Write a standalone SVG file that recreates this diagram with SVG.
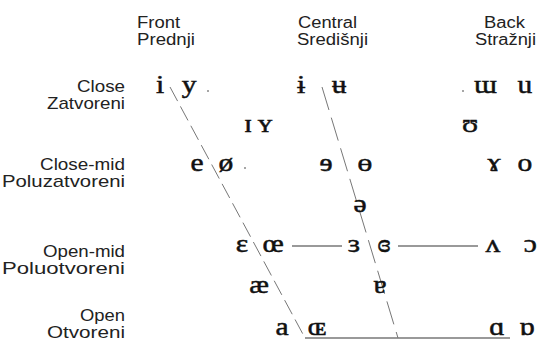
<svg xmlns="http://www.w3.org/2000/svg" width="540" height="344" viewBox="0 0 540 344">
<style>
.lbl{font-family:"Liberation Sans",Arial,sans-serif;font-size:16px;fill:#222}
.row{font-family:"Liberation Sans",Arial,sans-serif;font-size:17px;fill:#222;text-anchor:end}
.v{font-family:"Liberation Serif","DejaVu Serif",serif;font-size:25px;fill:#111;stroke:#111;stroke-width:0.5;text-anchor:middle}
.dash{stroke:#777;stroke-width:1;fill:none}
.solid{stroke:#777;stroke-width:1.6;fill:none}
.dot{fill:#888}
</style>
<rect width="540" height="344" fill="#fff"/>
<g id="headers">
<text class="lbl" x="137" y="28" textLength="43" lengthAdjust="spacingAndGlyphs">Front</text>
<text class="lbl" x="137" y="45" textLength="58" lengthAdjust="spacingAndGlyphs">Prednji</text>
<text class="lbl" x="298" y="28" textLength="59" lengthAdjust="spacingAndGlyphs">Central</text>
<text class="lbl" x="297" y="45" textLength="71" lengthAdjust="spacingAndGlyphs">Središnji</text>
<text class="lbl" x="484" y="28" textLength="41" lengthAdjust="spacingAndGlyphs">Back</text>
<text class="lbl" x="475" y="45" textLength="61" lengthAdjust="spacingAndGlyphs">Stražnji</text>
</g>
<g id="rows">
<text class="row" x="125" y="92" textLength="48" lengthAdjust="spacingAndGlyphs">Close</text>
<text class="row" x="125" y="109" textLength="78" lengthAdjust="spacingAndGlyphs">Zatvoreni</text>
<text class="row" x="125" y="170" textLength="85" lengthAdjust="spacingAndGlyphs">Close-mid</text>
<text class="row" x="125" y="187" textLength="123" lengthAdjust="spacingAndGlyphs">Poluzatvoreni</text>
<text class="row" x="125" y="257" textLength="82" lengthAdjust="spacingAndGlyphs">Open-mid</text>
<text class="row" x="125" y="274" textLength="123" lengthAdjust="spacingAndGlyphs">Poluotvoreni</text>
<text class="row" x="125" y="321" textLength="45" lengthAdjust="spacingAndGlyphs">Open</text>
<text class="row" x="125" y="338" textLength="78" lengthAdjust="spacingAndGlyphs">Otvoreni</text>
</g>
<g id="connectors">
<line class="dash" x1="170" y1="87" x2="305" y2="338" stroke-dasharray="16 6"/>
<line class="dash" x1="322" y1="87" x2="398" y2="338" stroke-dasharray="24 8"/>
<line class="solid" x1="292" y1="246" x2="342" y2="246"/>
<line class="solid" x1="398" y1="246" x2="478" y2="246"/>
<line class="solid" x1="305" y1="338" x2="510" y2="338"/>
</g>
<g id="dots">
<circle class="dot" cx="208" cy="91" r="1"/>
<circle class="dot" cx="245" cy="168" r="1"/>
<circle class="dot" cx="463" cy="91" r="1"/>
</g>
<g id="vowels" transform="scale(1.18 1)">
<g id="close"><text class="v" x="135.6" y="93">i</text><text class="v" x="160.2" y="93">y</text><text class="v" x="255.1" y="93">ɨ</text><text class="v" x="287.3" y="93">ʉ</text><text class="v" x="411.4" y="93">ɯ</text><text class="v" x="444.9" y="93">u</text></g>
<g id="near-close"><text class="v" x="210.2" y="132">ɪ</text><text class="v" x="224.6" y="132">ʏ</text><text class="v" x="398.3" y="132">ʊ</text></g>
<g id="close-mid"><text class="v" x="166.9" y="171">e</text><text class="v" x="191.5" y="171">ø</text><text class="v" x="276.3" y="171">ɘ</text><text class="v" x="309.3" y="171">ɵ</text><text class="v" x="418.6" y="171">ɤ</text><text class="v" x="444.9" y="171">o</text></g>
<g id="mid"><text class="v" x="305.1" y="212">ə</text></g>
<g id="open-mid"><text class="v" x="205.1" y="252">ɛ</text><text class="v" x="231.4" y="252">œ</text><text class="v" x="300" y="252">ɜ</text><text class="v" x="325.4" y="252">ɞ</text><text class="v" x="417.8" y="252">ʌ</text><text class="v" x="449.5" y="252">ɔ</text></g>
<g id="near-open"><text class="v" x="219.5" y="293">æ</text><text class="v" x="322" y="293">ɐ</text></g>
<g id="open"><text class="v" x="239" y="335">a</text><text class="v" x="268.6" y="335">ɶ</text><text class="v" x="421.2" y="335">ɑ</text><text class="v" x="446.6" y="335">ɒ</text></g>
</g>
</svg>
